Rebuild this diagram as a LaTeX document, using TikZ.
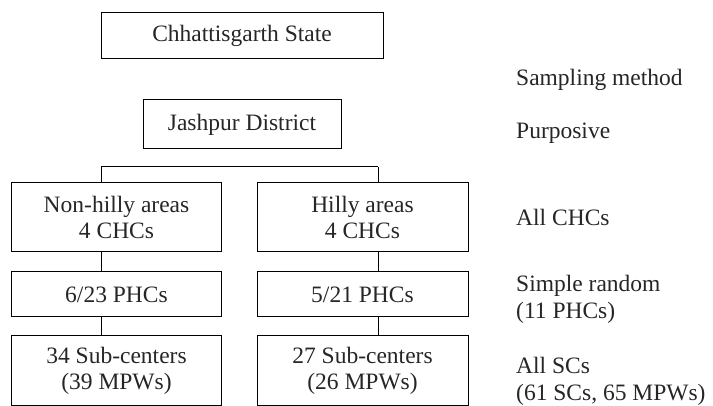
\documentclass[tikz,border=0pt]{standalone}
\usepackage{fontspec}
\setmainfont{Liberation Serif}
\begin{document}
\begin{tikzpicture}[x=1pt,y=-1pt,
  box/.style={draw=black,line width=1pt,inner sep=0pt,font=\fontsize{23.5}{26}\selectfont,text=black!85,align=center},
  lbl/.style={anchor=west,inner sep=0pt,font=\fontsize{23.5}{27}\selectfont,text=black!85,align=left},
  conn/.style={draw=black,line width=1pt}]
\useasboundingbox (0,0) rectangle (713,406);
\node[box,minimum width=282,minimum height=46] (state) at (242,36) {Chhattisgarth State};
\node[box,minimum width=198,minimum height=49] (dist) at (242,124.5) {Jashpur District};
\node[box,minimum width=210,minimum height=69] (nh) at (116.5,217.5) {Non-hilly areas\\4 CHCs};
\node[box,minimum width=211,minimum height=69] (h) at (362.5,217.5) {Hilly areas\\4 CHCs};
\node[box,minimum width=210,minimum height=45] (nhp) at (116.5,294.5) {6/23 PHCs};
\node[box,minimum width=211,minimum height=45] (hp) at (362.5,294.5) {5/21 PHCs};
\node[box,minimum width=210,minimum height=69] (nhs) at (116.5,370.5) {34 Sub-centers\\(39 MPWs)};
\node[box,minimum width=211,minimum height=69] (hs) at (362.5,370.5) {27 Sub-centers\\(26 MPWs)};
\coordinate (jl) at (101,167);
\coordinate (jr) at (378,167);
\draw[conn] (jl) -- (jr);
\draw[conn] (jl) -- (jl |- nh.north);
\draw[conn] (jr) -- (jr |- h.north);
\draw[conn] (jl |- nh.south) -- (jl |- nhp.north);
\draw[conn] (jl |- nhp.south) -- (jl |- nhs.north);
\draw[conn] (jr |- h.south) -- (jr |- hp.north);
\draw[conn] (jr |- hp.south) -- (jr |- hs.north);
\node[lbl] (m0) at (516,80) {Sampling method};
\node[lbl] (m1) at (516,133) {Purposive};
\node[lbl] (m2) at (516,217) {All CHCs};
\node[lbl] (m3) at (516,299) {Simple random\\(11 PHCs)};
\node[lbl] (m4) at (516,381) {All SCs\\(61 SCs, 65 MPWs)};
\end{tikzpicture}
\end{document}
